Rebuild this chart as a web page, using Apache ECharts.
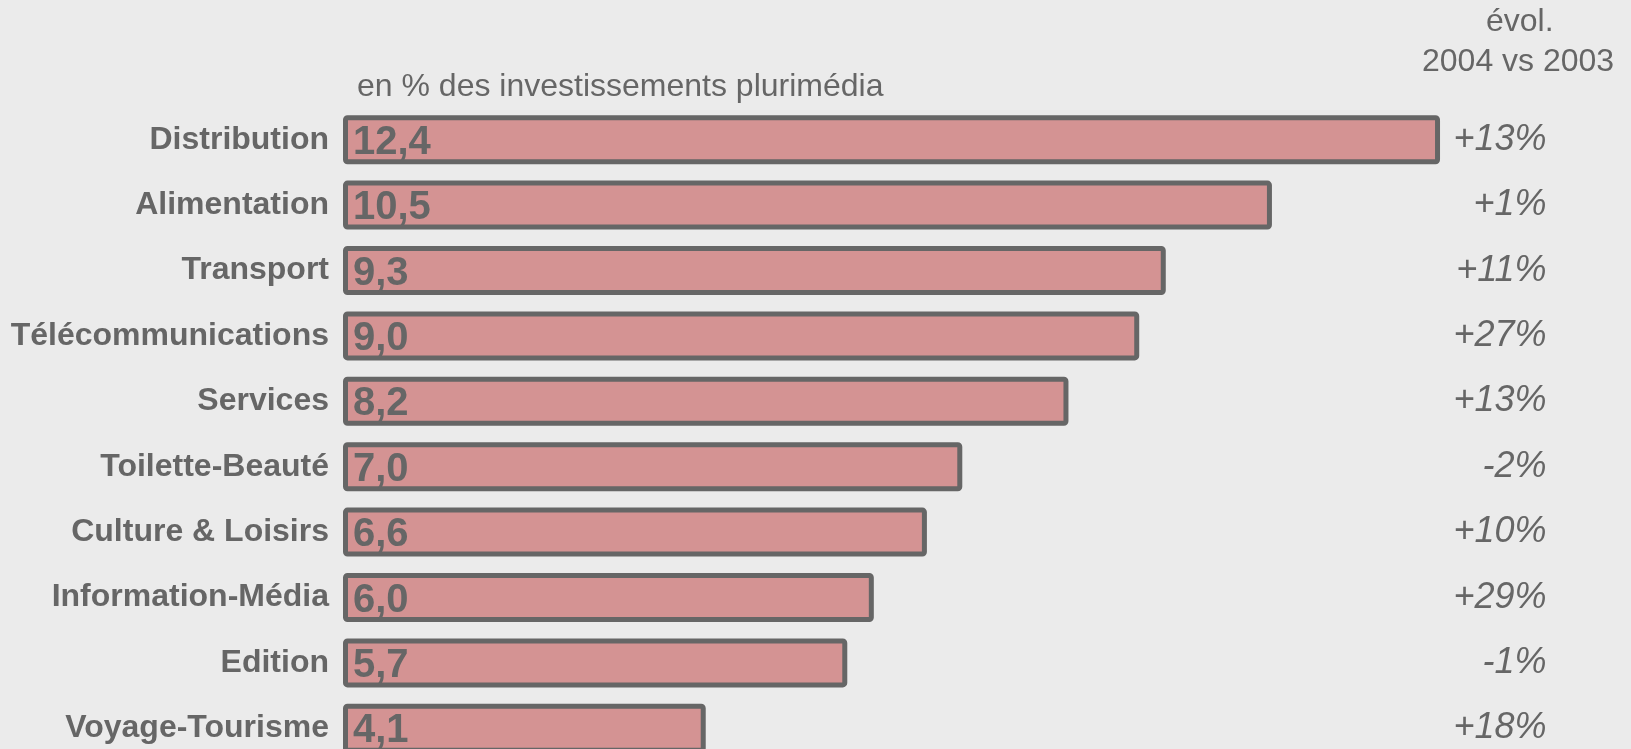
<!DOCTYPE html>
<html>
<head>
<meta charset="utf-8">
<script src="https://cdn.jsdelivr.net/npm/echarts@6/dist/echarts.min.js"></script>
<style>
  html, body { margin: 0; padding: 0; background: #ebebeb; }
  #chart { width: 1631px; height: 749px; }
</style>
</head>
<body>
<div id="chart"></div>
<script>
// secteurs, du plus gros au plus petit
const sectors = ['Distribution', 'Alimentation', 'Transport', 'Télécommunications', 'Services',
    'Toilette-Beauté', 'Culture & Loisirs', 'Information-Média', 'Edition', 'Voyage-Tourisme'];
// part en % des investissements plurimédia
const shares = [12.4, 10.5, 9.3, 9.0, 8.2, 7.0, 6.6, 6.0, 5.7, 4.1];
// évolution 2004 vs 2003
const evolution = ['+13%', '+1%', '+11%', '+27%', '+13%', '-2%', '+10%', '+29%', '-1%', '+18%'];

const grey = '#666666';
const font = 'Liberation Sans, Arial, sans-serif';
const headStyle = { color: grey, fontSize: 32, fontWeight: 'normal', fontFamily: font };

const chart = echarts.init(document.getElementById('chart'));

chart.setOption({
    backgroundColor: '#ebebeb',
    animation: false,
    title: [{
        text: 'en % des investissements plurimédia',
        left: 357,
        top: 71,
        padding: 0,
        textStyle: headStyle
    }, {
        text: 'évol.',
        left: 1486,
        top: 6,
        padding: 0,
        textStyle: headStyle
    }, {
        text: '2004 vs 2003',
        left: 1422,
        top: 46,
        padding: 0,
        textStyle: headStyle
    }],
    grid: {
        left: 343,
        top: 107,
        width: 14 * 88.47,
        height: 654,
        outerBoundsMode: 'none'
    },
    xAxis: {
        type: 'value',
        min: 0,
        max: 14,
        show: false
    },
    yAxis: [{
        type: 'category',
        data: sectors,
        inverse: true,
        axisLine: { show: false },
        axisTick: { show: false },
        axisLabel: {
            margin: 14,
            color: grey,
            fontSize: 32,
            fontWeight: 'bold',
            fontFamily: font
        }
    }, {
        type: 'category',
        data: evolution,
        inverse: true,
        position: 'right',
        axisLine: { show: false },
        axisTick: { show: false },
        axisLabel: {
            inside: true,
            margin: 35,
            color: grey,
            fontSize: 36,
            fontStyle: 'italic',
            fontFamily: font,
            padding: [10, 0, 0, 0]
        }
    }],
    series: [{
        type: 'bar',
        data: shares,
        barWidth: 49,
        itemStyle: {
            color: '#d49393',
            borderColor: grey,
            borderWidth: 5,
            borderRadius: 2
        },
        label: {
            show: true,
            position: 'insideLeft',
            distance: 10,
            offset: [0, 3],
            color: grey,
            fontSize: 40,
            fontWeight: 'bold',
            fontFamily: font,
            formatter: p => p.value.toFixed(1).replace('.', ',')
        }
    }]
});
</script>
</body>
</html>
